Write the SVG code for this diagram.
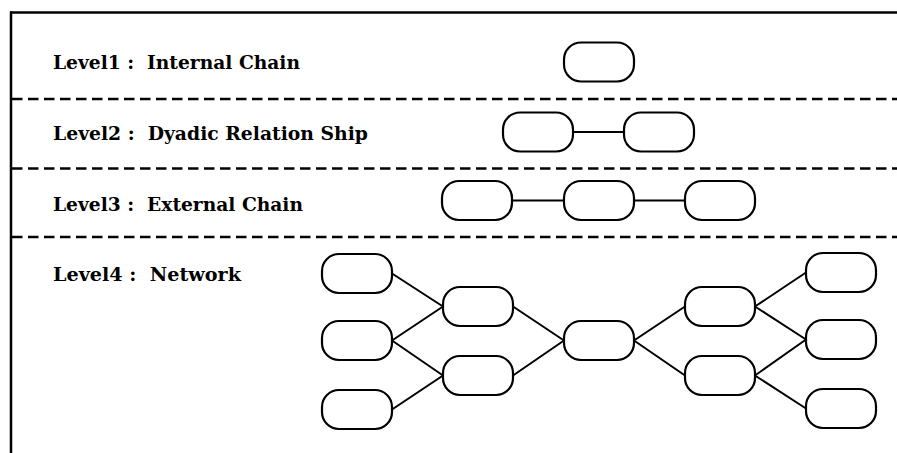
<svg xmlns="http://www.w3.org/2000/svg" width="897" height="453" viewBox="0 0 897 453">
  <style>
    .frame { stroke: #000; stroke-width: 2.5; fill: none; }
    .sep { stroke: #000; stroke-width: 2.5; stroke-dasharray: 10.5 5.5; fill: none; }
    .node use { fill: #fff; stroke: #000; stroke-width: 2.2; }
    .links line { stroke: #000; stroke-width: 2; }
    .label { font-family: "DejaVu Serif", "Liberation Serif", serif; font-weight: bold; font-size: 19px; fill: #000; white-space: pre; }
  </style>
  <defs>
    <rect id="pill" width="70" height="39" rx="17" ry="17"/>
  </defs>
  <rect width="897" height="453" fill="#fff"/>

  <!-- outer frame: top and left edges -->
  <line class="frame" x1="10" y1="12.5" x2="897" y2="12.5"/>
  <line class="frame" x1="11" y1="11.5" x2="11" y2="453"/>

  <!-- dashed level separators -->
  <line class="sep" x1="12" y1="99" x2="897" y2="99"/>
  <line class="sep" x1="12" y1="168.5" x2="897" y2="168.5"/>
  <line class="sep" x1="12" y1="237" x2="897" y2="237"/>

  <!-- level captions -->
  <text class="label" x="53" y="68.5" textLength="247" lengthAdjust="spacingAndGlyphs">Level1 :  Internal Chain</text>
  <text class="label" x="53" y="139.5" textLength="315" lengthAdjust="spacingAndGlyphs">Level2 :  Dyadic Relation Ship</text>
  <text class="label" x="53" y="210.5" textLength="250" lengthAdjust="spacingAndGlyphs">Level3 :  External Chain</text>
  <text class="label" x="53" y="280.5" textLength="188" lengthAdjust="spacingAndGlyphs">Level4 :  Network</text>

  <!-- connectors -->
  <g id="connectors" class="links">
    <line x1="573" y1="132" x2="624" y2="132"/>
    <line x1="512" y1="200.5" x2="564" y2="200.5"/>
    <line x1="634" y1="200.5" x2="685" y2="200.5"/>
    <line x1="392" y1="273.5" x2="443" y2="306.5"/>
    <line x1="392" y1="340.5" x2="443" y2="306.5"/>
    <line x1="392" y1="340.5" x2="443" y2="375.5"/>
    <line x1="392" y1="409.5" x2="443" y2="375.5"/>
    <line x1="513" y1="306.5" x2="564" y2="340.5"/>
    <line x1="513" y1="375.5" x2="564" y2="340.5"/>
    <line x1="634" y1="340.5" x2="685" y2="306.5"/>
    <line x1="634" y1="340.5" x2="685" y2="375.5"/>
    <line x1="755" y1="306.5" x2="806" y2="272.5"/>
    <line x1="755" y1="306.5" x2="806" y2="339.5"/>
    <line x1="755" y1="375.5" x2="806" y2="339.5"/>
    <line x1="755" y1="375.5" x2="806" y2="408.5"/>
  </g>

  <!-- level 1 -->
  <g id="l1-node" class="node"><use href="#pill" x="564" y="42.5"/></g>

  <!-- level 2 -->
  <g id="l2-node-a" class="node"><use href="#pill" x="503" y="112.5"/></g>
  <g id="l2-node-b" class="node"><use href="#pill" x="624" y="112.5"/></g>

  <!-- level 3 -->
  <g id="l3-node-a" class="node"><use href="#pill" x="442" y="181"/></g>
  <g id="l3-node-b" class="node"><use href="#pill" x="564" y="181"/></g>
  <g id="l3-node-c" class="node"><use href="#pill" x="685" y="181"/></g>

  <!-- level 4 network -->
  <g id="l4-a1" class="node"><use href="#pill" x="322" y="254"/></g>
  <g id="l4-a2" class="node"><use href="#pill" x="322" y="321"/></g>
  <g id="l4-a3" class="node"><use href="#pill" x="322" y="390"/></g>
  <g id="l4-b1" class="node"><use href="#pill" x="443" y="287"/></g>
  <g id="l4-b2" class="node"><use href="#pill" x="443" y="356"/></g>
  <g id="l4-c" class="node"><use href="#pill" x="564" y="321"/></g>
  <g id="l4-d1" class="node"><use href="#pill" x="685" y="287"/></g>
  <g id="l4-d2" class="node"><use href="#pill" x="685" y="356"/></g>
  <g id="l4-e1" class="node"><use href="#pill" x="806" y="253"/></g>
  <g id="l4-e2" class="node"><use href="#pill" x="806" y="320"/></g>
  <g id="l4-e3" class="node"><use href="#pill" x="806" y="389"/></g>
</svg>
